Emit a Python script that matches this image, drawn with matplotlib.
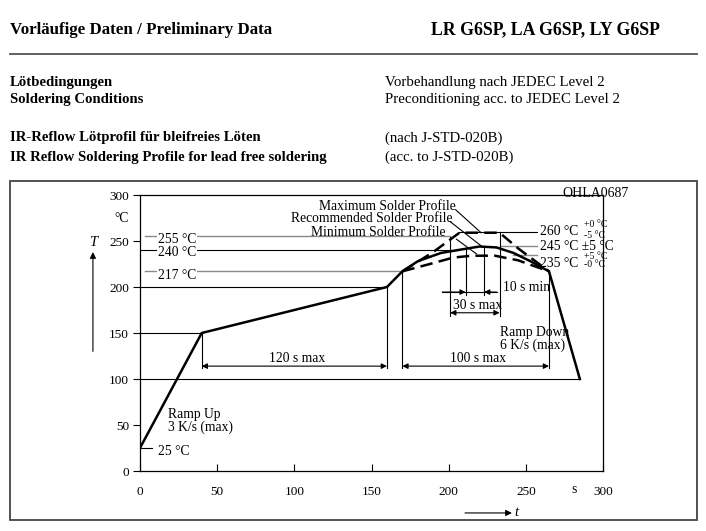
import matplotlib
matplotlib.use("Agg")
import matplotlib.pyplot as plt
from matplotlib.patches import Rectangle
from matplotlib.lines import Line2D

plt.rcParams['font.family'] = ['Liberation Serif', 'DejaVu Serif']

# profile data (time in s, temperature in degC)
recommended_t = [0, 40, 160, 170, 180, 195, 209, 220, 231, 242, 253, 265, 285]
recommended_T = [25, 150, 200, 217, 228, 237, 241, 244, 243, 237, 228, 217, 100]
maximum_t = [170, 190, 207, 233, 245, 265]
maximum_T = [217, 238, 259, 259, 242, 217]
minimum_t = [170, 190, 203, 215, 230, 245, 265]
minimum_T = [217, 226, 232, 234, 234, 229, 217]

x_ticks = [0, 50, 100, 150, 200, 250, 300]
y_ticks = [0, 50, 100, 150, 200, 250, 300]

W, H = 706, 531
fig = plt.figure(figsize=(W / 100, H / 100), dpi=100)


def px(x, y):
    return x / W, 1 - y / H


def ftext(x, y, s, **kw):
    kw.setdefault('va', 'center')
    fig.text(*px(x, y), s, **kw)


# page header
ftext(10, 30, "Vorläufige Daten / Preliminary Data", fontsize=12.2, weight='bold')
ftext(660, 30, "LR G6SP, LA G6SP, LY G6SP", fontsize=12.8, weight='bold', ha='right')
fig.add_artist(Line2D([10 / W, 697 / W], [1 - 54 / H] * 2, color='#555555', lw=1.3))

left_rows = ["Lötbedingungen", "Soldering Conditions",
             "IR-Reflow Lötprofil für bleifreies Löten",
             "IR Reflow Soldering Profile for lead free soldering"]
right_rows = ["Vorbehandlung nach JEDEC Level 2", "Preconditioning acc. to JEDEC Level 2",
              "(nach J-STD-020B)", "(acc. to J-STD-020B)"]
for yy, l, r in zip([82, 100, 138, 157], left_rows, right_rows):
    ftext(10, yy, l, fontsize=10.6, weight='bold')
    ftext(385, yy, r, fontsize=10.7)

fig.add_artist(Rectangle(px(10, 520), 687 / W, 339 / H, fill=False,
                         edgecolor='#444444', lw=1.3, transform=fig.transFigure))

# chart axes
ax = fig.add_axes([140 / W, (H - 471) / H, 463 / W, 276 / H])
ax.set_xlim(0, 300)
ax.set_ylim(0, 300)
ax.set_xticks(x_ticks)
ax.set_yticks(y_ticks)
ax.tick_params(axis='x', direction='in', length=5, width=0.8, labelsize=9.5, pad=11)
ax.tick_params(axis='y', direction='out', length=5, width=0.8, labelsize=9.5, pad=3)
for sp in ax.spines.values():
    sp.set_linewidth(0.9)

thin = dict(color='black', lw=0.8, clip_on=False)
gray = dict(color='#8a8a8a', lw=1.0, clip_on=False)

# horizontal reference lines
ax.plot([3, 201], [255, 255], **gray)
ax.plot([0, 206], [240, 240], **thin)
ax.plot([3, 170], [217, 217], **gray)
ax.plot([0, 160], [200, 200], **thin)
ax.plot([0, 40], [150, 150], **thin)
ax.plot([0, 285], [100, 100], **thin)
ax.plot([0, 8], [25, 25], **thin)
ax.plot([207, 257], [260, 260], **thin)
ax.plot([233, 257], [245, 245], **gray)
ax.plot([242, 257], [235, 235], **gray)

# extension lines
for t, T0, T1 in [(40, 150, 112), (160, 200, 112), (170, 217, 112), (265, 217, 112),
                  (201, 254, 169), (233, 260, 169), (211, 242, 191), (223, 244, 191)]:
    ax.plot([t, t], [T0, T1], **thin)

# profiles
ax.plot(recommended_t, recommended_T, color='black', lw=1.8, solid_joinstyle='miter')
ax.plot(maximum_t, maximum_T, color='black', lw=1.8, dashes=(5, 2.5))
ax.plot(minimum_t, minimum_T, color='black', lw=1.8, dashes=(5, 2.5))

arrow = dict(arrowstyle='<|-|>', color='black', lw=0.8, mutation_scale=8, shrinkA=0, shrinkB=0)
ax.annotate('', xy=(40, 114), xytext=(160, 114), arrowprops=arrow)
ax.annotate('', xy=(170, 114), xytext=(265, 114), arrowprops=arrow)
ax.annotate('', xy=(201, 172), xytext=(233, 172), arrowprops=arrow)
one = dict(arrowstyle='-|>', color='black', lw=0.8, mutation_scale=8, shrinkA=0, shrinkB=0)
ax.plot([196, 231], [194.5, 194.5], **thin)
ax.annotate('', xy=(211, 194.5), xytext=(196, 194.5), arrowprops=one)
ax.annotate('', xy=(223, 194.5), xytext=(231, 194.5), arrowprops=one)

fs = 9.8
ax.text(102, 115, "120 s max", fontsize=fs, ha='center', va='bottom')
ax.text(219, 115, "100 s max", fontsize=fs, ha='center', va='bottom')
ax.text(219, 173, "30 s max", fontsize=fs, ha='center', va='bottom')
ax.text(235, 199, "10 s min", fontsize=fs, ha='left', va='center')
ax.text(18, 61, "Ramp Up", fontsize=fs, va='center')
ax.text(18, 48, "3 K/s (max)", fontsize=fs, va='center')
ax.text(11.5, 21.5, "25 °C", fontsize=fs, va='center')
ax.text(233, 151, "Ramp Down", fontsize=fs, va='center')
ax.text(233, 137, "6 K/s (max)", fontsize=fs, va='center')
box = dict(facecolor='white', edgecolor='none', pad=0.5)
ax.text(11.5, 251.5, "255 °C", fontsize=fs, va='center', bbox=box)
ax.text(11.5, 238, "240 °C", fontsize=fs, va='center', bbox=box)
ax.text(11.5, 213, "217 °C", fontsize=fs, va='center', bbox=box)

ax.text(204.5, 288, "Maximum Solder Profile", fontsize=fs, ha='right', va='center')
ax.text(202.5, 274, "Recommended Solder Profile", fontsize=fs, ha='right', va='center')
ax.text(198, 259, "Minimum Solder Profile", fontsize=fs, ha='right', va='center')
ax.plot([204.5, 221], [284, 259], **thin)
ax.plot([201, 222], [271, 243.5], **thin)
ax.plot([205, 218], [252, 236], **thin)

ax.text(259, 260, "260 °C", fontsize=fs, va='center')
ax.text(287.5, 268, "+0 °C", fontsize=7, va='center')
ax.text(287.5, 256.5, "-5 °C", fontsize=7, va='center')
ax.text(259, 244, "245 °C ±5 °C", fontsize=fs, va='center')
ax.text(259, 226, "235 °C", fontsize=fs, va='center')
ax.text(287.5, 233, "+5 °C", fontsize=7, va='center')
ax.text(287.5, 224, "-0 °C", fontsize=7, va='center')
ax.text(274, 302, "OHLA0687", fontsize=10, va='center', clip_on=False)

# axis units and direction arrows
ax.text(-12, 275, "°C", fontsize=fs, ha='center', va='center')
ax.text(-30.5, 248, "T", fontsize=10.5, style='italic', ha='center', va='center')
ax.annotate('', xy=(-30.5, 238), xytext=(-30.5, 130),
            arrowprops=dict(arrowstyle='-|>', color='black', lw=0.8, mutation_scale=9,
                            shrinkA=0, shrinkB=0), annotation_clip=False)
ax.text(281, -20.6, "s", fontsize=fs, ha='center', va='center')
ax.text(244, -45.6, "t", fontsize=10.5, style='italic', ha='center', va='center')
ax.annotate('', xy=(241, -45.6), xytext=(210.6, -45.6),
            arrowprops=dict(arrowstyle='-|>', color='black', lw=0.8, mutation_scale=9,
                            shrinkA=0, shrinkB=0), annotation_clip=False)

fig.savefig("out.png", dpi=100)
